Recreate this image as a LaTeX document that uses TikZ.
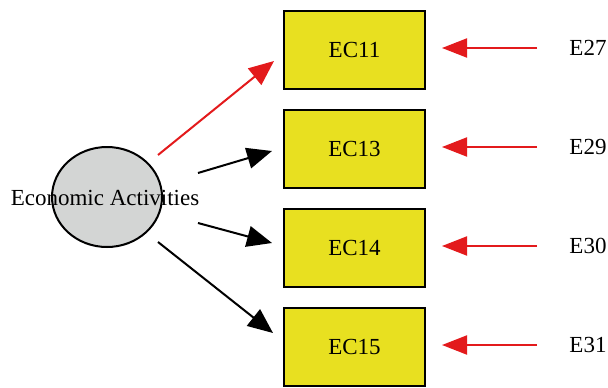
\documentclass[tikz,border=0pt]{standalone}
\usepackage{fontspec}
\setmainfont{Liberation Serif}
\usetikzlibrary{arrows.meta,shapes.geometric}
\definecolor{itemyellow}{HTML}{E8E020}
\definecolor{latentgrey}{HTML}{D3D5D4}
\definecolor{pathred}{HTML}{E31A1C}
\tikzset{
  itembox/.style={draw=black, line width=2pt, fill=itemyellow, minimum width=141pt, minimum height=78pt, inner sep=0pt},
  latent/.style={ellipse, draw=black, line width=2pt, fill=latentgrey, minimum width=110pt, minimum height=100pt, inner sep=0pt},
  lbl/.style={inner sep=0pt, font=\fontsize{23}{27}\selectfont},
  loading/.style={line width=2pt, -{Triangle[length=25pt,width=21pt]}},
  errpath/.style={line width=2pt, pathred, -{Triangle[length=25pt,width=19pt]}}
}
\begin{document}
\begin{tikzpicture}[x=1pt,y=-1pt]
\useasboundingbox (0,0) rectangle (608,388);
% latent factor
\node[latent] (ea) at (107,197) {};
\node[lbl] (ealbl) at (105,198) {Economic Activities};
% indicator items
\node[itembox] (ec11) at (354.5,50) {};
\node[lbl] at (ec11) {EC11};
\node[itembox] (ec13) at (354.5,149) {};
\node[lbl] at (ec13) {EC13};
\node[itembox] (ec14) at (354.5,248) {};
\node[lbl] at (ec14) {EC14};
\node[itembox] (ec15) at (354.5,346.5) {};
\node[lbl] at (ec15) {EC15};
% error terms
\node[lbl] (e27) at (588,48) {E27};
\node[lbl] (e29) at (588,147) {E29};
\node[lbl] (e30) at (588,246) {E30};
\node[lbl] (e31) at (588,345) {E31};
% path end points
\coordinate (s1) at (158,155); \coordinate (t1) at (274,61);
\coordinate (s2) at (198,173); \coordinate (t2) at (272,151);
\coordinate (s3) at (198,223); \coordinate (t3) at (272,243);
\coordinate (s4) at (158,242); \coordinate (t4) at (273,333);
% loadings
\draw[loading, pathred] (s1) -- (t1);
\draw[loading] (s2) -- (t2);
\draw[loading] (s3) -- (t3);
\draw[loading] (s4) -- (t4);
% error paths
\foreach \e/\b/\y in {e27/ec11/48, e29/ec13/147, e30/ec14/246, e31/ec15/345}{
  \coordinate (\e s) at (537,\y);
  \coordinate (\e t) at (442,\y);
  \draw[errpath] (\e s) -- (\e t);
}
\end{tikzpicture}
\end{document}
